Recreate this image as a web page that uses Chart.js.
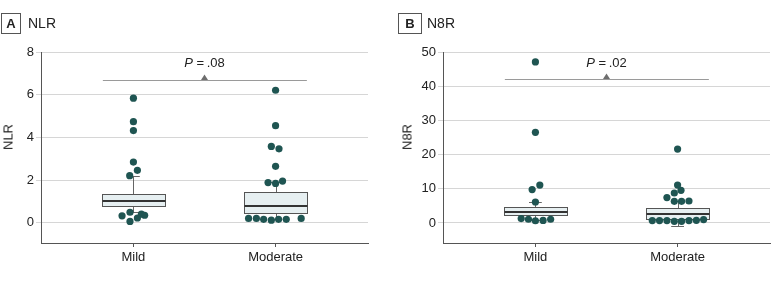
<!DOCTYPE html>
<html lang="en">
<head>
<meta charset="UTF-8" />
<title>NLR and N8R by severity</title>
<style>
  body { margin: 0; background: #fff; }
  #wrap { position: relative; width: 783px; height: 298px; font-family: "Liberation Sans", Arial, sans-serif; color: #222; }
  canvas { position: absolute; top: 0; }
  .tag { position: absolute; top: 13px; height: 19px; border: 1px solid #555; font-weight: bold; font-size: 13px; line-height: 19px; text-align: center; }
  .head { position: absolute; top: 13px; font-size: 14px; line-height: 21px; }
  .ytitle { position: absolute; font-size: 13px; transform: translate(-50%, -50%) rotate(-90deg); white-space: nowrap; }
</style>
</head>
<body>
<div id="wrap">
  <canvas id="chartA" width="390" height="298" style="left:0"></canvas>
  <canvas id="chartB" width="393" height="298" style="left:390px"></canvas>
  <div class="tag" style="left:1px; width:18px">A</div>
  <div class="head" style="left:28px">NLR</div>
  <div class="tag" style="left:398px; width:22px">B</div>
  <div class="head" style="left:427px">N8R</div>
  <div class="ytitle" style="left:8px; top:137px">NLR</div>
  <div class="ytitle" style="left:407px; top:137px">N8R</div>
</div>

<script src="https://cdn.jsdelivr.net/npm/chart.js"></script>
<script>
  const groups = ['Mild', 'Moderate'];
  const groupPos = [1, 2];

  // NLR, panel A (x = jittered group position)
  const nlrMildX = [1.0, 1.0, 1.0, 1.0, 1.028, 0.974, 0.976, 0.92, 1.056, 1.079, 1.028, 0.976];
  const nlrMildY = [5.84, 4.74, 4.32, 2.85, 2.46, 2.21, 0.50, 0.33, 0.41, 0.36, 0.23, 0.07];
  const nlrModX = [2.0, 2.0, 1.97, 2.024, 2.0, 1.947, 2.0, 2.049, 1.81, 1.865, 1.916, 1.97, 2.021, 2.075, 2.18];
  const nlrModY = [6.21, 4.55, 3.58, 3.47, 2.65, 1.89, 1.85, 1.96, 0.21, 0.21, 0.17, 0.13, 0.17, 0.17, 0.21];
  // whisker low, q1, median, q3, whisker high
  const nlrBoxes = [[0.5, 0.80, 1.03, 1.37, 2.18], [0.2, 0.47, 0.80, 1.47, 1.9]];
  const nlrTicks = [0, 2, 4, 6, 8];

  // N8R, panel B
  const n8rMildX = [1.0, 1.0, 0.977, 1.031, 1.0, 0.9, 0.951, 1.0, 1.054, 1.107];
  const n8rMildY = [47.1, 26.5, 9.76, 11.1, 6.14, 1.3, 1.1, 0.65, 0.75, 1.1];
  const n8rModX = [2.0, 2.0, 2.024, 1.977, 1.925, 1.977, 2.028, 2.08, 1.822, 1.873, 1.925, 1.977, 2.028, 2.08, 2.132, 2.183];
  const n8rModY = [21.6, 11.1, 9.56, 8.77, 7.43, 6.35, 6.35, 6.43, 0.70, 0.70, 0.70, 0.50, 0.50, 0.70, 0.79, 0.99];
  const n8rBoxes = [[0.9, 2.4, 3.2, 4.8, 6.14], [-1.0, 1.28, 2.5, 4.39, 6.4]];
  const n8rTicks = [0, 10, 20, 30, 40, 50];

  const pText = ['.08', '.02'];

  const FONT = '"Liberation Sans", Arial, sans-serif';
  const dotColor = '#1f5552';

  function pts(xs, ys) {
    return xs.map((x, i) => ({ x: x, y: ys[i] }));
  }

  function px(v) { return Math.round(v) + 0.5; }

  const boxPlugin = {
    id: 'boxes',
    beforeDatasetsDraw(chart, args, opts) {
      const ctx = chart.ctx;
      const x = chart.scales.x, y = chart.scales.y;
      opts.boxes.forEach((b, i) => {
        const c = groupPos[i];
        const l = px(x.getPixelForValue(c - 0.22)), r = px(x.getPixelForValue(c + 0.22));
        const xc = px(x.getPixelForValue(c));
        const cl = x.getPixelForValue(c - 0.045), cr = x.getPixelForValue(c + 0.045);
        const [lo, q1, med, q3, hi] = b.map(v => px(y.getPixelForValue(v)));
        ctx.save();
        ctx.strokeStyle = '#666';
        ctx.lineWidth = 1;
        ctx.beginPath();
        ctx.moveTo(xc, q3); ctx.lineTo(xc, hi);
        ctx.moveTo(cl, hi); ctx.lineTo(cr, hi);
        ctx.moveTo(xc, q1); ctx.lineTo(xc, lo);
        ctx.moveTo(cl, lo); ctx.lineTo(cr, lo);
        ctx.stroke();
        ctx.fillStyle = '#e6eff1';
        ctx.fillRect(l, q3, r - l, q1 - q3);
        ctx.strokeStyle = '#555';
        ctx.strokeRect(l, q3, r - l, q1 - q3);
        ctx.strokeStyle = '#333';
        ctx.lineWidth = 2;
        ctx.beginPath();
        ctx.moveTo(l, Math.round(y.getPixelForValue(b[2])));
        ctx.lineTo(r, Math.round(y.getPixelForValue(b[2])));
        ctx.stroke();
        ctx.restore();
      });
    },
    afterDatasetsDraw(chart, args, opts) {
      const ctx = chart.ctx;
      const x = chart.scales.x, y = chart.scales.y;
      const ly = px(y.getPixelForValue(opts.lineY));
      const mid = x.getPixelForValue(1.5);
      ctx.save();
      ctx.strokeStyle = '#9a9a9a';
      ctx.lineWidth = 1;
      ctx.beginPath();
      ctx.moveTo(x.getPixelForValue(0.785), ly);
      ctx.lineTo(x.getPixelForValue(2.22), ly);
      ctx.stroke();
      ctx.fillStyle = '#6e6e6e';
      ctx.beginPath();
      ctx.moveTo(mid - 3.5, ly - 0.5);
      ctx.lineTo(mid + 3.5, ly - 0.5);
      ctx.lineTo(mid, ly - 6);
      ctx.closePath();
      ctx.fill();
      // P value label, italic P
      const ty = y.getPixelForValue(opts.textY);
      const rest = ' =\u2009' + opts.text;
      ctx.font = 'italic 13px ' + FONT;
      const w1 = ctx.measureText('P').width;
      ctx.font = '13px ' + FONT;
      const w2 = ctx.measureText(rest).width;
      const start = mid - (w1 + w2) / 2;
      ctx.fillStyle = '#222';
      ctx.textBaseline = 'middle';
      ctx.textAlign = 'left';
      ctx.font = 'italic 13px ' + FONT;
      ctx.fillText('P', start, ty);
      ctx.font = '13px ' + FONT;
      ctx.fillText(rest, start + w1, ty);
      ctx.restore();
    }
  };

  function makeChart(id, mild, mod, boxes, ticks, yMin, yMax, axisW, padRight, bracket) {
    return new Chart(document.getElementById(id), {
      type: 'scatter',
      data: {
        datasets: [
          { label: groups[0], data: mild },
          { label: groups[1], data: mod }
        ]
      },
      options: {
        responsive: false,
        animation: false,
        events: [],
        layout: { padding: { top: 52, right: padRight, bottom: 0, left: 0 } },
        elements: {
          point: { radius: 3.6, backgroundColor: dotColor, borderWidth: 0 }
        },
        scales: {
          x: {
            type: 'linear',
            min: 0.35,
            max: 2.65,
            afterBuildTicks: s => { s.ticks = groupPos.map(v => ({ value: v })); },
            afterFit: s => { s.height = 55; },
            border: { color: '#555' },
            grid: { drawOnChartArea: false, tickLength: 4, color: '#555' },
            ticks: {
              autoSkip: false,
              maxRotation: 0,
              padding: 3,
              color: '#222',
              font: { family: FONT, size: 13 },
              callback: v => groups[groupPos.indexOf(v)]
            }
          },
          y: {
            min: yMin,
            max: yMax,
            afterBuildTicks: s => { s.ticks = ticks.map(v => ({ value: v })); },
            afterFit: s => { s.width = axisW; },
            border: { color: '#555' },
            grid: { color: '#d6d6d6', tickLength: 5 },
            ticks: { padding: 2, color: '#222', font: { family: FONT, size: 13 } }
          }
        },
        plugins: {
          legend: { display: false },
          tooltip: { enabled: false },
          boxes: Object.assign({ boxes: boxes }, bracket)
        }
      },
      plugins: [boxPlugin]
    });
  }

  makeChart('chartA', pts(nlrMildX, nlrMildY), pts(nlrModX, nlrModY), nlrBoxes, nlrTicks,
    -0.94, 8, 41, 22, { lineY: 6.71, textY: 7.45, text: pText[0] });
  makeChart('chartB', pts(n8rMildX, n8rMildY), pts(n8rModX, n8rModY), n8rBoxes, n8rTicks,
    -5.85, 50, 53, 13, { lineY: 42.0, textY: 46.6, text: pText[1] });
</script>
</body>
</html>
